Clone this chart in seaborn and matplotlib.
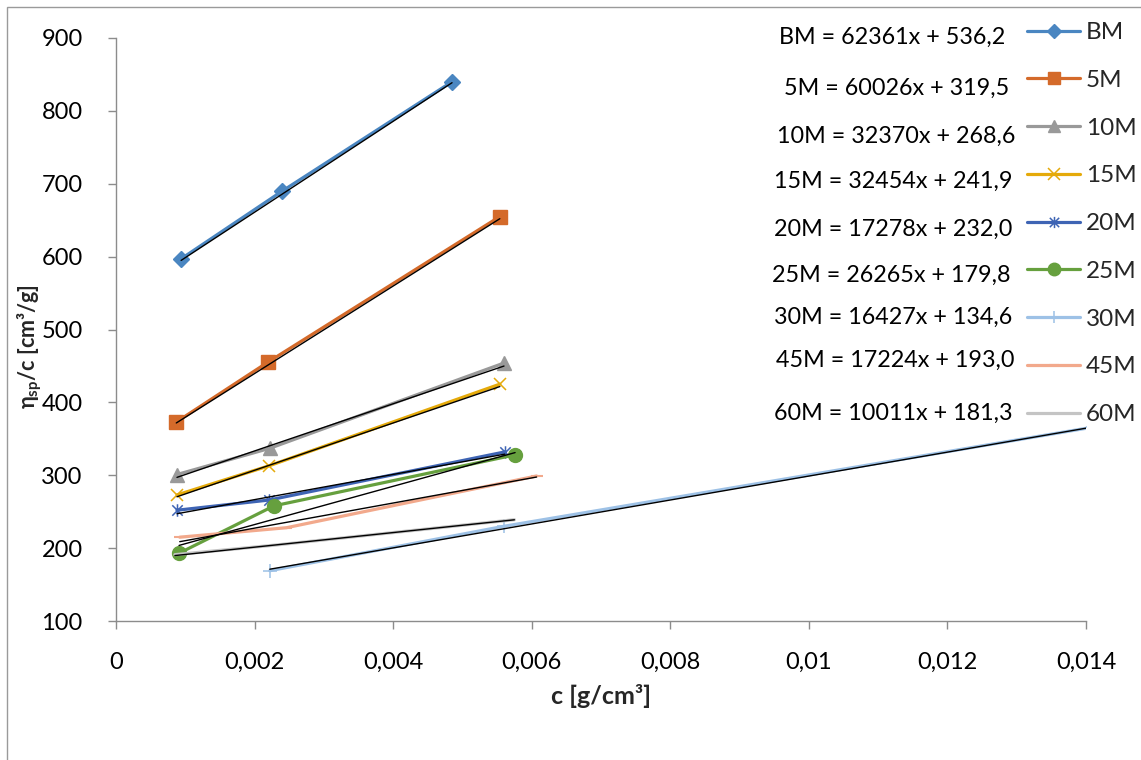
import numpy as np
import pandas as pd
import matplotlib
matplotlib.use("Agg")
import matplotlib.pyplot as plt
from matplotlib.path import Path
from matplotlib.lines import Line2D
from matplotlib.patches import Rectangle
import seaborn as sns

# ---------------- data ----------------
series = ["BM", "5M", "10M", "15M", "20M", "25M", "30M", "45M", "60M"]
x_BM = [0.00094, 0.00240, 0.00485];  y_BM = [597, 690, 840]
x_5M = [0.00087, 0.00219, 0.00554];  y_5M = [373, 455, 655]
x_10M = [0.00088, 0.00222, 0.00560]; y_10M = [301, 337, 454]
x_15M = [0.00088, 0.00221, 0.00554]; y_15M = [273, 313, 425]
x_20M = [0.00088, 0.00221, 0.00561]; y_20M = [252, 266, 332]
x_25M = [0.00091, 0.00228, 0.00576]; y_25M = [193, 258, 328]
x_30M = [0.00222, 0.00560, 0.01410]; y_30M = [169, 230, 366]
x_45M = [0.00092, 0.00246, 0.00607]; y_45M = [215, 228, 299]
x_60M = [0.00085, 0.00228, 0.00575]; y_60M = [191, 204, 239]
slopes = [62361, 60026, 32370, 32454, 17278, 26265, 16427, 17224, 10011]
intercepts = [536.2, 319.5, 268.6, 241.9, 232.0, 179.8, 134.6, 193.0, 181.3]
equation_labels = ["BM = 62361x + 536,2", "5M = 60026x + 319,5", "10M = 32370x + 268,6",
                   "15M = 32454x + 241,9", "20M = 17278x + 232,0", "25M = 26265x + 179,8",
                   "30M = 16427x + 134,6", "45M = 17224x + 193,0", "60M = 10011x + 181,3"]
x_ticks = [0, 0.002, 0.004, 0.006, 0.008, 0.01, 0.012, 0.014]
x_tick_labels = ["0", "0,002", "0,004", "0,006", "0,008", "0,01", "0,012", "0,014"]
y_ticks = [100, 200, 300, 400, 500, 600, 700, 800, 900]

xs = [x_BM, x_5M, x_10M, x_15M, x_20M, x_25M, x_30M, x_45M, x_60M]
ys = [y_BM, y_5M, y_10M, y_15M, y_20M, y_25M, y_30M, y_45M, y_60M]

# ---------------- style ----------------
sns.set_theme(style="white")
plt.rcParams["font.family"] = ["Lato", "DejaVu Sans"]
plt.rcParams["mathtext.fontset"] = "custom"
plt.rcParams["mathtext.rm"] = "Lato"
plt.rcParams["mathtext.bf"] = "Lato:bold"
plt.rcParams["mathtext.it"] = "Lato:italic"

FS_TICK = 17
FS_LAB = 18
FS_YLAB = 15.5
FS_EQ = 16.8
FS_LEG = 17.5
star = Path([(-1, -1), (1, 1), (-1, 1), (1, -1), (0, -1.2), (0, 1.2)],
            [Path.MOVETO, Path.LINETO, Path.MOVETO, Path.LINETO, Path.MOVETO, Path.LINETO])

colors = ["#4A86C1", "#D46A2A", "#999999", "#E5AA0A", "#3E64B4",
          "#66A03E", "#9DC1E6", "#F2A98C", "#C4C4C4"]
markers = ["D", "s", "^", "x", star, "o", "+", "_", None]
msizes = [8, 10, 10, 9, 9, 10, 10, 8, 0]
mews = [1, 1, 1, 1.1, 1.1, 1, 1.1, 1.5, 1]

fig = plt.figure(figsize=(11.41, 7.6), dpi=100)
fig.patch.set_facecolor("white")
fig.patches.append(Rectangle((7 / 1141, -0.01), 1.02, 1 - 7 / 760 + 0.01,
                             transform=fig.transFigure, fill=False,
                             edgecolor="#9a9a9a", linewidth=1.0))
ax = fig.add_axes([116 / 1141, 139 / 760, 970 / 1141, 583 / 760])

for i, name in enumerate(series):
    df = pd.DataFrame({"c": xs[i], "v": ys[i]})
    kw = dict(color=colors[i], linewidth=2.3, sort=False, estimator=None, ax=ax,
              zorder=3)
    if markers[i] is not None:
        kw.update(marker=markers[i], markersize=msizes[i], markeredgewidth=mews[i],
                  markeredgecolor=colors[i], markerfacecolor=colors[i])
    sns.lineplot(data=df, x="c", y="v", **kw)

# trendlines
for i, name in enumerate(series):
    xx = np.array([min(xs[i]), max(xs[i])])
    ax.plot(xx, slopes[i] * xx + intercepts[i], color="black", lw=1.0, zorder=4)

ax.set_xlim(0, 0.014)
ax.set_ylim(100, 900)
ax.set_xticks(x_ticks)
ax.set_xticklabels(x_tick_labels, fontsize=FS_TICK)
ax.set_yticks(y_ticks)
ax.set_yticklabels([str(v) for v in y_ticks], fontsize=FS_TICK)
for s in ["top", "right"]:
    ax.spines[s].set_visible(False)
for s in ["left", "bottom"]:
    ax.spines[s].set_color("#8c8c8c")
    ax.spines[s].set_linewidth(1.0)
ax.tick_params(axis="y", direction="out", length=6, width=1.0, color="#8c8c8c",
               labelcolor="black", pad=18, left=True)
ax.tick_params(axis="x", direction="out", length=6, width=1.0, color="#8c8c8c",
               labelcolor="black", pad=16, bottom=True)
ax.set_xlabel("c [g/cm³]", fontsize=FS_LAB, fontweight="bold", labelpad=8)
ax.set_ylabel("η$_{\\mathbf{sp}}$/c [cm³/g]", fontsize=FS_YLAB, fontweight="bold")
ax.yaxis.set_label_coords((30 - 116) / 970, (621 - 347) / 583)
ax.yaxis.label.set_va("center")
ax.grid(False)

# legend
handles = []
for i, name in enumerate(series):
    handles.append(Line2D([], [], color=colors[i], lw=2.3,
                          marker=markers[i] if markers[i] is not None else "None",
                          markersize=msizes[i] * 0.9, markeredgewidth=mews[i],
                          markeredgecolor=colors[i], markerfacecolor=colors[i]))
leg = fig.legend(handles, series, loc="upper left",
                 bbox_to_anchor=(1027 / 1141, 1 - 22 / 760), frameon=False,
                 fontsize=FS_LEG, handlelength=2.2, handletextpad=0.22,
                 labelspacing=1.1, borderpad=0, borderaxespad=0)

# trendline equations
eq_right = [1005, 1009, 1015, 1012, 1012, 1010, 1012, 1015, 1012]
eq_y = [37, 88, 136, 181, 229, 275, 317, 360, 413]
for i, lab in enumerate(equation_labels):
    fig.text(eq_right[i] / 1141, 1 - eq_y[i] / 760, lab, ha="right", va="center",
             fontsize=FS_EQ, color="black")

fig.savefig("out.png", dpi=100)
